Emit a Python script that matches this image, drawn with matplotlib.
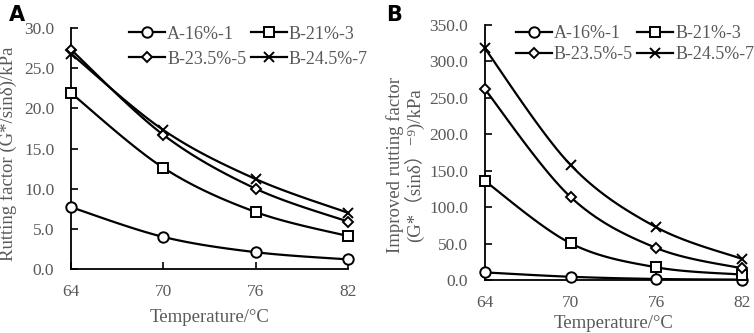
import numpy as np
import matplotlib
matplotlib.use("Agg")
import matplotlib.pyplot as plt

plt.rcParams['font.family'] = ['Liberation Serif', 'Noto Sans CJK SC', 'DejaVu Sans']

temps = [64, 70, 76, 82]
labels = ["A-16%-1", "B-21%-3", "B-23.5%-5", "B-24.5%-7"]
markers = ["o", "s", "D", "x"]
msizes = [7.5, 7.5, 5, 7.5]

# panel A: rutting factor, kPa
rut = {
    "A-16%-1": [7.7, 4.0, 2.1, 1.2],
    "B-21%-3": [21.9, 12.6, 7.1, 4.1],
    "B-23.5%-5": [27.3, 16.7, 10.0, 5.9],
    "B-24.5%-7": [26.8, 17.3, 11.2, 7.0],
}
# panel B: improved rutting factor, kPa
imp = {
    "A-16%-1": [10.5, 4.5, 1.5, 0.6],
    "B-21%-3": [136.0, 50.5, 17.5, 7.5],
    "B-23.5%-5": [262.0, 114.0, 44.0, 16.0],
    "B-24.5%-7": [318.0, 158.0, 72.5, 29.0],
}

GRAY = "#595959"


def smooth(x, y, xr, yr, n=40):
    # excel-like smoothed line (catmull-rom bezier in normalised coords)
    px = (np.asarray(x, float) - xr[0]) / (xr[1] - xr[0])
    py = (np.asarray(y, float) - yr[0]) / (yr[1] - yr[0])
    P = np.column_stack([px, py])
    P = np.vstack([P[0], P, P[-1]])
    out = []
    t = np.linspace(0, 1, n)[:, None]
    for i in range(1, len(P) - 2):
        p0, p1, pm, pp = P[i], P[i + 1], P[i - 1], P[i + 2]
        c1 = p0 + (p1 - pm) / 6
        c2 = p1 - (pp - p0) / 6
        seg = ((1 - t) ** 3) * p0 + 3 * ((1 - t) ** 2) * t * c1 + 3 * (1 - t) * t ** 2 * c2 + t ** 3 * p1
        out.append(seg)
    s = np.vstack(out)
    return s[:, 0] * (xr[1] - xr[0]) + xr[0], s[:, 1] * (yr[1] - yr[0]) + yr[0]


fig = plt.figure(figsize=(7.54, 3.33), dpi=100)
axA = fig.add_axes([0.0942, 0.192, 0.3673, 0.724])
axB = fig.add_axes([0.643, 0.159, 0.341, 0.766])


def draw(ax, data, ylim, yticks, ylabel, leg_anchor, xlabelpad, lspace, ylab_xy):
    xr = (64, 82)
    handles = {}
    for lab, m, ms in zip(labels, markers, msizes):
        y = data[lab]
        sx, sy = smooth(temps, y, xr, ylim)
        ax.plot(sx, sy, "-", color="black", lw=1.6, zorder=2)
        ax.plot(temps, y, linestyle="none", marker=m, ms=ms, mfc="white", mec="black",
                mew=1.4, zorder=3, clip_on=False)
        h, = ax.plot([], [], "-", color="black", lw=1.6, marker=m, ms=ms, mfc="white",
                     mec="black", mew=1.4)
        handles[lab] = h
    ax.set_xlim(*xr)
    ax.set_ylim(*ylim)
    ax.set_xticks(temps)
    ax.set_yticks(yticks)
    ax.set_yticklabels(["%.1f" % v for v in yticks])
    for s in ["top", "right"]:
        ax.spines[s].set_visible(False)
    for s in ["left", "bottom"]:
        ax.spines[s].set_linewidth(1.3)
    ax.tick_params(direction="in", length=5, width=1.2, labelsize=12.5, labelcolor=GRAY)
    ax.tick_params(axis="y", pad=12)
    ax.tick_params(axis="x", pad=11)
    ax.set_xlabel("Temperature/°C", fontsize=13.5, color=GRAY, labelpad=xlabelpad)
    ax.set_ylabel(ylabel, fontsize=13.5, color=GRAY, linespacing=1.0)
    ax.yaxis.set_label_coords(*ylab_xy)
    # row-wise legend order for two columns
    order = ["A-16%-1", "B-23.5%-5", "B-21%-3", "B-24.5%-7"]
    leg = ax.legend([handles[k] for k in order], order, ncol=2, loc="upper left",
                    bbox_to_anchor=leg_anchor, frameon=False,
                    fontsize=13, handlelength=2.0, handletextpad=0.1, columnspacing=0.25,
                    labelspacing=lspace, borderaxespad=0.0, borderpad=0.0)
    for t in leg.get_texts():
        t.set_color(GRAY)


draw(axA, rut, (0, 30), [0, 5, 10, 15, 20, 25, 30], "Rutting factor (G*/sinδ)/kPa",
     (0.21, 1.01), 6, 0.45, (-0.195, 0.48))
draw(axB, imp, (0, 350), [0, 50, 100, 150, 200, 250, 300, 350],
     "Improved rutting factor\n(G*（sinδ）⁻⁹)/kPa", (0.12, 1.0), 3, 0.22, (-0.235, 0.45))

fig.text(0.012, 0.985, "A", fontsize=15, fontweight="bold", family="DejaVu Sans", va="top")
fig.text(0.512, 0.985, "B", fontsize=15, fontweight="bold", family="DejaVu Sans", va="top")

fig.savefig("out.png", dpi=100)
